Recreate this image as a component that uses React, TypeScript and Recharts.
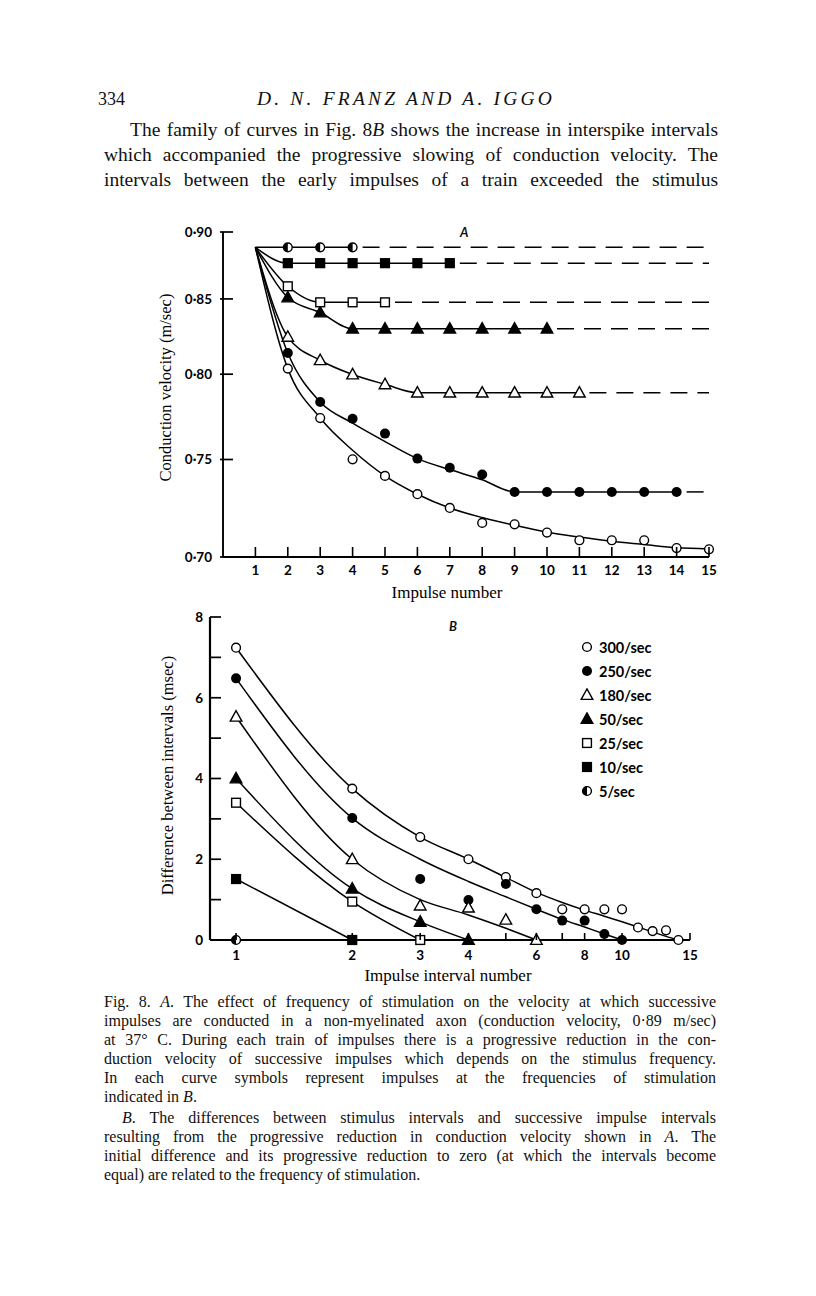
import React from 'react'
import { ComposedChart, Line, XAxis, YAxis, Legend, Label } from 'recharts'

const SERIF = '"Liberation Serif", "Times New Roman", serif'
const SANS = 'Lato, "Open Sans", sans-serif'

// ---------- Fig. 8A: conduction velocity (m/sec) by impulse number ----------
const impulseTicks = [1, 2, 3, 4, 5, 6, 7, 8, 9, 10, 11, 12, 13, 14, 15]
const velocityTicks = [0.9, 0.85, 0.8, 0.75, 0.7]
const firstImpulseVel = 0.888 // impulse 1, same for every frequency

// symbols, impulse 2 onwards
const vel300 = [0.8035, 0.7735, 0.7501, 0.7411, 0.7314, 0.7243, 0.7167, 0.716, 0.7119, 0.7081, 0.7081, 0.7081, 0.7043, 0.7037]
const vel250 = [0.8135, 0.783, 0.7731, 0.7645, 0.7505, 0.7455, 0.7418, 0.7326, 0.7326, 0.7326, 0.7326, 0.7326, 0.7326]
const vel180 = [0.824, 0.8088, 0.7998, 0.7937, 0.7886, 0.7886, 0.7886, 0.7886, 0.7886, 0.7886]
const vel50 = [0.851, 0.8405, 0.8295, 0.8295, 0.8295, 0.8295, 0.8295, 0.8295, 0.8295]
const vel25 = [0.859, 0.8476, 0.8476, 0.8476]
const vel10 = [0.876, 0.876, 0.876, 0.876, 0.876, 0.876]
const vel5 = [0.888, 0.888, 0.888]

// drawn curves, impulse 2 onwards
const curveA300 = [0.8035, 0.7735, 0.7551, 0.7411, 0.7314, 0.7243, 0.7194, 0.7155, 0.7121, 0.7097, 0.7076, 0.706, 0.7044, 0.7039]
const curveA250 = [0.8135, 0.783, 0.7705, 0.76, 0.7505, 0.7445, 0.739, 0.7326, 0.7326, 0.7326, 0.7326, 0.7326, 0.7326]
const curveA180 = [0.824, 0.8088, 0.7998, 0.7937, 0.7886, 0.7886, 0.7886, 0.7886, 0.7886, 0.7886]
const curveA50 = [0.851, 0.8405, 0.8295, 0.8295, 0.8295, 0.8295, 0.8295, 0.8295, 0.8295]
const curveA25 = [0.859, 0.8476, 0.8476, 0.8476]
const curveA10 = [0.876, 0.876, 0.876, 0.876, 0.876, 0.876]
const curveA5 = [0.888, 0.888, 0.888]

// ---------- Fig. 8B: difference between intervals (msec) by interval number ----------
const intervalTicks = [1, 2, 3, 4, 5, 6, 7, 8, 9, 10, 15]
const intervalLabels = [1, 2, 3, 4, 6, 8, 10, 15]
const diffTicks = [0, 1, 2, 3, 4, 5, 6, 7, 8]

// symbols, interval 1 onwards
const diff300 = [7.24, 3.75, 2.55, 2.0, 1.56, 1.16, 0.76, 0.76, 0.76, 0.76, 0.31, 0.22, 0.24, 0]
const diff250 = [6.48, 3.02, 1.51, 0.99, 1.39, 0.76, 0.48, 0.48, 0.15, 0]
const diff180 = [5.53, 2.0, 0.85, 0.8, 0.5, 0]
const diff50 = [4.0, 1.27, 0.45, 0]
const diff25 = [3.4, 0.95, 0]
const diff10 = [1.51, 0]
const diff5 = [0]

// drawn curves, interval 1 onwards
const curveB300 = [7.24, 3.75, 2.55, 2.0, 1.55, 1.18, 0.93, 0.74, 0.59, 0.45, 0.32, 0.2, 0.09, 0]
const curveB250 = [6.48, 3.02, 2.0, 1.45, 1.07, 0.76, 0.51, 0.32, 0.15, 0]
const curveB180 = [5.53, 2.0, 1.0, 0.62, 0.29, 0]
const curveB50 = [4.0, 1.27, 0.45, 0]
const curveB25 = [3.4, 0.95, 0]
const curveB10 = [1.51, 0]
const curveB5: number[] = []

type Sym = 'circle' | 'disc' | 'tri' | 'triFill' | 'square' | 'squareFill' | 'half'

const SERIES: { label: string; sym: Sym; vel: number[]; curveA: number[]; diff: number[]; curveB: number[] }[] = [
  { label: '300/sec', sym: 'circle', vel: vel300, curveA: curveA300, diff: diff300, curveB: curveB300 },
  { label: '250/sec', sym: 'disc', vel: vel250, curveA: curveA250, diff: diff250, curveB: curveB250 },
  { label: '180/sec', sym: 'tri', vel: vel180, curveA: curveA180, diff: diff180, curveB: curveB180 },
  { label: '50/sec', sym: 'triFill', vel: vel50, curveA: curveA50, diff: diff50, curveB: curveB50 },
  { label: '25/sec', sym: 'square', vel: vel25, curveA: curveA25, diff: diff25, curveB: curveB25 },
  { label: '10/sec', sym: 'squareFill', vel: vel10, curveA: curveA10, diff: diff10, curveB: curveB10 },
  { label: '5/sec', sym: 'half', vel: vel5, curveA: curveA5, diff: diff5, curveB: curveB5 },
]

function Marker({ cx, cy, sym }: { cx?: number; cy?: number; sym: Sym }) {
  if (cx == null || cy == null) return null
  const r = 4.4
  const sw = 1.4
  if (sym === 'circle') return <circle cx={cx} cy={cy} r={r} fill="#fff" stroke="#000" strokeWidth={sw} />
  if (sym === 'disc') return <circle cx={cx} cy={cy} r={r + 0.6} fill="#000" />
  if (sym === 'tri' || sym === 'triFill') {
    const h = 5.8
    const pts = `${cx},${cy - h * 1.05} ${cx - h},${cy + h * 0.75} ${cx + h},${cy + h * 0.75}`
    return <polygon points={pts} fill={sym === 'triFill' ? '#000' : '#fff'} stroke="#000" strokeWidth={sw} />
  }
  if (sym === 'square' || sym === 'squareFill')
    return <rect x={cx - r} y={cy - r} width={2 * r} height={2 * r} fill={sym === 'squareFill' ? '#000' : '#fff'} stroke="#000" strokeWidth={sw} />
  return (
    <g>
      <circle cx={cx} cy={cy} r={r} fill="#fff" stroke="#000" strokeWidth={sw} />
      <path d={`M${cx},${cy - r} A${r},${r} 0 0 0 ${cx},${cy + r} Z`} fill="#000" />
    </g>
  )
}

const tickText = { fontFamily: SANS, fontWeight: 700, fontSize: 13.5, fill: '#000' }
const titleText = { fontFamily: SERIF, fontSize: 16.5, fill: '#000' }
const AXIS = { stroke: '#000', strokeWidth: 1.9 }

const velFmt = (v: number) => (1 / v).toFixed(2).replace('.', '·')

function yTickA(p: any) {
  return (
    <g key={p.index}>
      <line x1={p.x - 3} x2={p.x + 10} y1={p.y} y2={p.y} stroke="#000" strokeWidth={1.7} />
      <text x={p.x - 11} y={p.y} dy="0.36em" textAnchor="end" style={tickText}>{velFmt(p.payload.value)}</text>
    </g>
  )
}

function xTickA(p: any) {
  return (
    <g key={p.index}>
      <line x1={p.x} x2={p.x} y1={p.y} y2={p.y - 10} stroke="#000" strokeWidth={1.6} />
      <text x={p.x} y={p.y + 18} textAnchor="middle" style={tickText}>{p.payload.value}</text>
    </g>
  )
}

function yTickB(p: any) {
  const v = p.payload.value
  return (
    <g key={p.index}>
      <line x1={p.x} x2={p.x + 11} y1={p.y} y2={p.y} stroke="#000" strokeWidth={1.7} />
      {v % 2 === 0 && (
        <text x={p.x - 7} y={p.y} dy="0.36em" textAnchor="end" style={tickText}>{v}</text>
      )}
    </g>
  )
}

function xTickB(p: any) {
  const v = p.payload.value
  return (
    <g key={p.index}>
      <line x1={p.x} x2={p.x} y1={p.y} y2={p.y - 7} stroke="#000" strokeWidth={1.6} />
      {intervalLabels.includes(v) && (
        <text x={p.x} y={p.y + 20} textAnchor="middle" style={tickText}>{v}</text>
      )}
    </g>
  )
}

function FigA() {
  const inv = (v: number) => 1 / v
  const curves = SERIES.flatMap((s) => {
    const pts = [firstImpulseVel, ...s.curveA].map((v, i) => ({ x: i + 1, y: inv(v) }))
    const last = pts[pts.length - 1]
    const out = [
      <Line key={`fit-${s.label}`} data={pts} dataKey="y" type="monotone" stroke="#000" strokeWidth={1.5}
        dot={false} activeDot={false} isAnimationActive={false} />,
    ]
    if (last.x < 15)
      out.push(
        <Line key={`dash-${s.label}`} data={[last, { x: 15, y: last.y }]} dataKey="y" type="linear" stroke="#000"
          strokeWidth={1.5} strokeDasharray="17 10" strokeDashoffset={17} dot={false} activeDot={false}
          isAnimationActive={false} />
      )
    return out
  })
  const marks = SERIES.map((s) => (
    <Line key={`pts-${s.label}`} data={s.vel.map((v, i) => ({ x: i + 2, y: inv(v) }))} dataKey="y" stroke="none"
      activeDot={false} isAnimationActive={false}
      dot={(p: any) => <Marker key={`${s.label}-${p.index}`} cx={p.cx} cy={p.cy} sym={s.sym} />} />
  ))
  return (
    <ComposedChart width={580} height={392} margin={{ top: 12, right: 21, bottom: 0, left: 0 }}>
      <XAxis dataKey="x" type="number" domain={[0, 15]} ticks={impulseTicks} interval={0}
        tickSize={0} tickMargin={0} tickLine={false} axisLine={AXIS} height={55} tick={xTickA}>
        <Label content={({ viewBox }: any) => (
          <text x={viewBox.x + viewBox.width / 2 - 19} y={viewBox.y + 35} textAnchor="middle" dominantBaseline="central"
            style={{ ...titleText, fontSize: 17 }}>Impulse number</text>
        )} />
      </XAxis>
      <YAxis dataKey="y" type="number" domain={[1 / 0.9, 1 / 0.7]} reversed
        ticks={velocityTicks.map(inv)} interval={0} tickSize={0} tickMargin={0} tickLine={false}
        axisLine={AXIS} width={73} tick={yTickA}>
        <Label content={({ viewBox }: any) => {
          const cx = viewBox.x + 15
          const cy = viewBox.y + viewBox.height / 2 - 7
          return (
            <text x={cx} y={cy} transform={`rotate(-90 ${cx} ${cy})`} textAnchor="middle" dominantBaseline="central"
              style={titleText}>Conduction velocity (m/sec)</text>
          )
        }} />
      </YAxis>
      {curves}
      {marks}
    </ComposedChart>
  )
}

function LegendB() {
  return (
    <div style={{ fontFamily: SANS, fontWeight: 700, fontSize: 14.5, color: '#000' }}>
      {SERIES.map((s) => (
        <div key={s.label} style={{ height: 24, display: 'flex', alignItems: 'center' }}>
          <svg width={14} height={14} style={{ marginRight: 5 }}>
            <Marker cx={7} cy={7} sym={s.sym} />
          </svg>
          <span>{s.label}</span>
        </div>
      ))}
    </div>
  )
}

function FigB() {
  const curves = SERIES.filter((s) => s.curveB.length > 1).map((s) => (
    <Line key={`fit-${s.label}`} data={s.curveB.map((v, i) => ({ x: i + 1, y: v }))} dataKey="y" type="monotone"
      stroke="#000" strokeWidth={1.5} dot={false} activeDot={false} isAnimationActive={false} />
  ))
  const marks = SERIES.map((s) => (
    <Line key={`pts-${s.label}`} data={s.diff.map((v, i) => ({ x: i + 1, y: v }))} dataKey="y" stroke="none"
      activeDot={false} isAnimationActive={false}
      dot={(p: any) => <Marker key={`${s.label}-${p.index}`} cx={p.cx} cy={p.cy} sym={s.sym} />} />
  ))
  return (
    <ComposedChart width={580} height={390} margin={{ top: 17, right: 40, bottom: 0, left: 0 }}>
      <XAxis dataKey="x" type="number" scale="log" domain={[0.856, 15]} ticks={intervalTicks} interval={0}
        tickSize={0} tickMargin={0} tickLine={false} axisLine={{ ...AXIS, strokeWidth: 2.2 }}
        height={50} tick={xTickB}>
        <Label content={({ viewBox }: any) => (
          <text x={viewBox.x + viewBox.width / 2 - 2} y={viewBox.y + 35} textAnchor="middle" dominantBaseline="central"
            style={{ ...titleText, fontSize: 17 }}>Impulse interval number</text>
        )} />
      </XAxis>
      <YAxis dataKey="y" type="number" domain={[0, 8]} ticks={diffTicks} interval={0}
        tickSize={0} tickMargin={0} tickLine={false} axisLine={{ ...AXIS, strokeWidth: 2.2 }} width={60} tick={yTickB}>
        <Label content={({ viewBox }: any) => {
          const cx = viewBox.x + 17
          const cy = viewBox.y + viewBox.height / 2 - 3
          return (
            <text x={cx} y={cy} transform={`rotate(-90 ${cx} ${cy})`} textAnchor="middle" dominantBaseline="central"
              style={titleText}>Difference between intervals (msec)</text>
          )
        }} />
      </YAxis>
      <Legend layout="vertical" align="center" verticalAlign="middle" content={() => <LegendB />}
        wrapperStyle={{ left: 430, top: 35, width: 120, height: 170 }} />
      {curves}
      {marks}
    </ComposedChart>
  )
}

function JLine({ top, left, width, size, lh, children, justify = true }: {
  top: number; left: number; width: number; size: number; lh: number; children: React.ReactNode; justify?: boolean
}) {
  return (
    <div style={{
      position: 'absolute', top, left, width, fontSize: size, lineHeight: `${lh}px`,
      textAlign: justify ? 'justify' : 'left', textAlignLast: justify ? 'justify' : 'auto',
    }}>{children}</div>
  )
}

const CAPTION_CENTERS = [1003, 1022, 1041, 1060, 1079, 1098, 1119, 1138, 1157, 1176]

export default function App() {
  const cap = (i: number) => CAPTION_CENTERS[i] - 11
  return (
    <div style={{ position: 'absolute', left: 0, top: 0, width: 816, height: 1296, background: '#fff', fontFamily: SERIF, color: '#111', overflow: 'hidden' }}>
      <div style={{ position: 'absolute', left: 98, top: 87, fontSize: 18, lineHeight: '24px' }}>334</div>
      <div style={{ position: 'absolute', left: 0, width: 816, top: 87, fontSize: 19.5, lineHeight: '24px', textAlign: 'center', fontStyle: 'italic', letterSpacing: 3.2, transform: 'translateX(-2px)' }}>
        D. N. FRANZ AND A. IGGO
      </div>

      <JLine top={117} left={130} width={588} size={19.5} lh={25}>
        The family of curves in Fig. 8<i>B</i> shows the increase in interspike intervals
      </JLine>
      <JLine top={142} left={104} width={614} size={19.5} lh={25}>
        which accompanied the progressive slowing of conduction velocity. The
      </JLine>
      <JLine top={167} left={104} width={614} size={19.5} lh={25}>
        intervals between the early impulses of a train exceeded the stimulus
      </JLine>

      <div style={{ position: 'absolute', left: 150, top: 220 }}>
        <FigA />
      </div>
      <div style={{ position: 'absolute', left: 460, top: 224, fontFamily: SANS, fontStyle: 'italic', fontWeight: 700, fontSize: 13 }}>A</div>

      <div style={{ position: 'absolute', left: 150, top: 600 }}>
        <FigB />
      </div>
      <div style={{ position: 'absolute', left: 449, top: 618, fontFamily: SANS, fontStyle: 'italic', fontWeight: 700, fontSize: 13 }}>B</div>

      <JLine top={cap(0)} left={104} width={612} size={16} lh={19}>
        Fig. 8. <i>A</i>. The effect of frequency of stimulation on the velocity at which successive
      </JLine>
      <JLine top={cap(1)} left={104} width={612} size={16} lh={19}>
        impulses are conducted in a non-myelinated axon (conduction velocity, 0·89 m/sec)
      </JLine>
      <JLine top={cap(2)} left={104} width={612} size={16} lh={19}>
        at 37° C. During each train of impulses there is a progressive reduction in the con-
      </JLine>
      <JLine top={cap(3)} left={104} width={612} size={16} lh={19}>
        duction velocity of successive impulses which depends on the stimulus frequency.
      </JLine>
      <JLine top={cap(4)} left={104} width={612} size={16} lh={19}>
        In each curve symbols represent impulses at the frequencies of stimulation
      </JLine>
      <JLine top={cap(5)} left={104} width={612} size={16} lh={19} justify={false}>
        indicated in <i>B</i>.
      </JLine>
      <JLine top={cap(6)} left={122} width={594} size={16} lh={19}>
        <i>B</i>. The differences between stimulus intervals and successive impulse intervals
      </JLine>
      <JLine top={cap(7)} left={104} width={612} size={16} lh={19}>
        resulting from the progressive reduction in conduction velocity shown in <i>A</i>. The
      </JLine>
      <JLine top={cap(8)} left={104} width={612} size={16} lh={19}>
        initial difference and its progressive reduction to zero (at which the intervals become
      </JLine>
      <JLine top={cap(9)} left={104} width={612} size={16} lh={19} justify={false}>
        equal) are related to the frequency of stimulation.
      </JLine>
    </div>
  )
}
